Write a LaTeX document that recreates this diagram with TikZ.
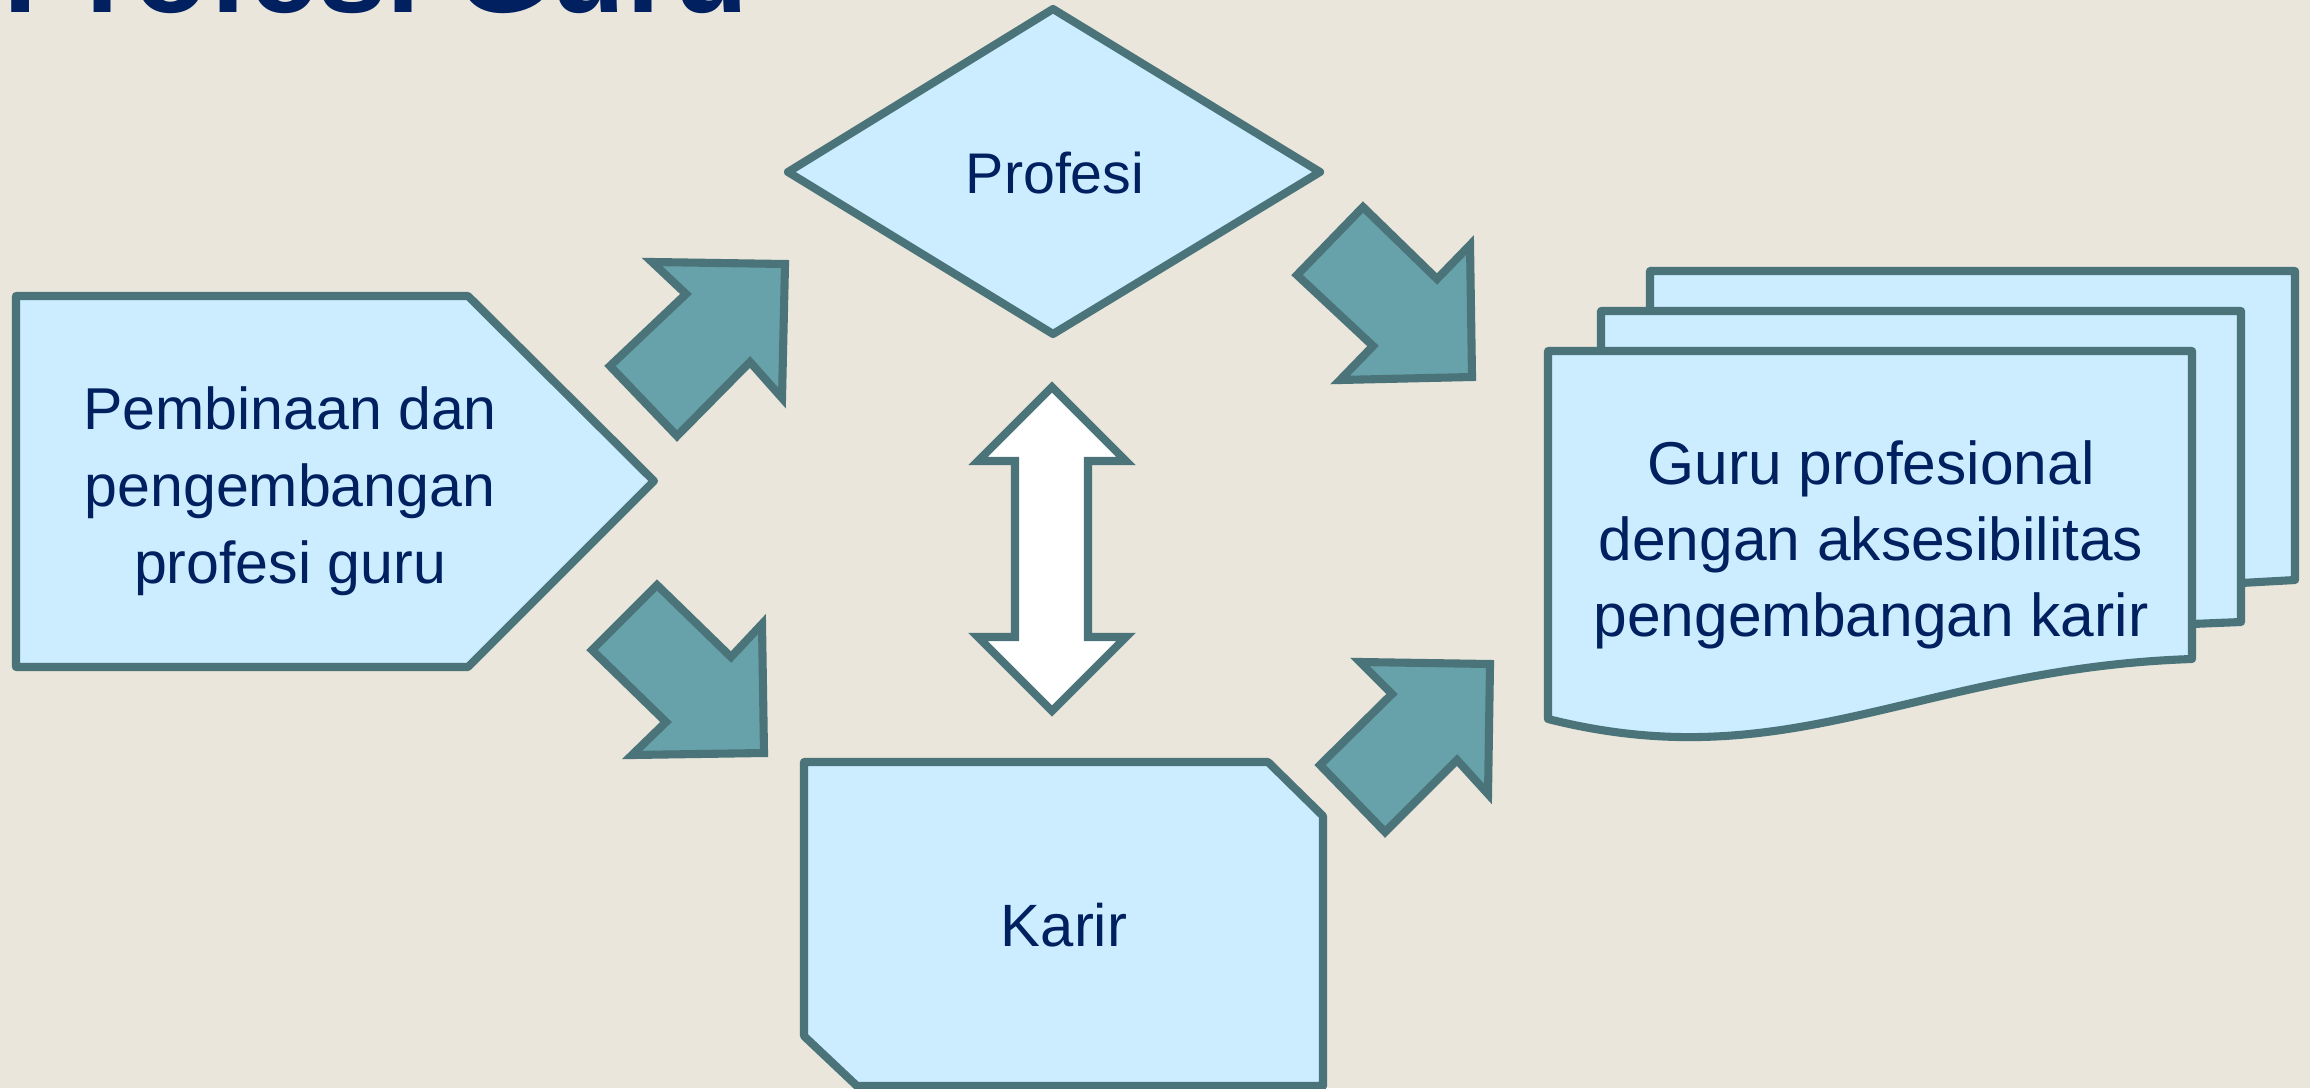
\documentclass[tikz,border=0pt]{standalone}
\usepackage{fontspec}
\setmainfont{Liberation Sans}
\definecolor{bg}{RGB}{234,230,220}
\definecolor{edge}{RGB}{74,116,121}
\definecolor{lightfill}{RGB}{204,236,255}
\definecolor{arrowfill}{RGB}{103,161,170}
\definecolor{navy}{RGB}{0,32,96}
\tikzset{
  shapebox/.style={draw=edge, fill=lightfill, line width=2.3pt, line join=round},
  blockarrow/.style={draw=edge, fill=arrowfill, line width=2.3pt, line join=miter},
  dblarrow/.style={draw=edge, fill=white, line width=2.3pt, line join=miter},
  edgeline/.style={draw=edge, line width=2.3pt, line join=round},
  lbl/.style={text=navy, inner sep=0pt, align=center},
}
\begin{document}
\begin{tikzpicture}[x=0.01cm, y=-0.01cm]
\useasboundingbox (0,0) rectangle (2310,1088);
\clip (0,0) rectangle (2310,1088);
\fill[bg] (0,0) rectangle (2310,1088);

% title (cut off at the top, as in the reference)
\node[lbl, anchor=base west, font=\fontsize{35}{40}\selectfont\bfseries] (title) at (3,13) {Profesi Guru};

% left pentagon
\draw[shapebox] (16,296) -- (468,296) -- (654,481) -- (468,667) -- (16,667) -- cycle;
\node[lbl, font=\fontsize{16.8}{21.9}\selectfont] (pembinaan) at (290,491) {Pembinaan dan\\pengembangan\\profesi guru};

% diamond
\draw[shapebox] (1053,9) -- (1320,172) -- (1053,334) -- (788,172) -- cycle;
\node[lbl, anchor=base, font=\fontsize{16.3}{20}\selectfont] (profesi) at (1055,193) {Profesi};

% Karir box
\draw[shapebox] (804,762) -- (1268,762) -- (1323,816) -- (1323,1086) -- (857,1086) -- (804,1036) -- cycle;
\node[lbl, anchor=base, font=\fontsize{17}{20}\selectfont] (karir) at (1064,946) {Karir};

% multi-document
\fill[lightfill] (1650,311) -- (1650,271) -- (2295,271) -- (2295,580) -- (2241,583) -- (2241,311) -- cycle;
\draw[edgeline] (1650,311) -- (1650,271) -- (2295,271) -- (2295,580) -- (2241,583);
\fill[lightfill] (1601,351) -- (1601,311) -- (2241,311) -- (2241,622) -- (2192,624) -- (2192,351) -- cycle;
\draw[edgeline] (1601,351) -- (1601,311) -- (2241,311) -- (2241,622) -- (2192,624);
\draw[shapebox] (1548,351) -- (2192,351) -- (2192,659) .. controls (1920,668) and (1790,780) .. (1548,719) -- cycle;
\node[lbl, font=\fontsize{17.2}{21.6}\selectfont] (guru) at (1871,545) {Guru profesional\\dengan aksesibilitas\\pengembangan karir};

% block arrows
\draw[blockarrow] (610,366) -- (686,294) -- (652,262) -- (785,264) -- (782,398) -- (750,362) -- (677,436) -- cycle;
\draw[blockarrow] (1363,207) -- (1437,279) -- (1470,245) -- (1472,377) -- (1340,380) -- (1373,346) -- (1297,275) -- cycle;
\draw[blockarrow] (657,585) -- (731,657) -- (762,624) -- (764,753) -- (632,755) -- (666,722) -- (592,650) -- cycle;
\draw[blockarrow] (1320,765) -- (1392,694) -- (1360,662) -- (1490,664) -- (1488,794) -- (1457,760) -- (1385,832) -- cycle;

% double arrow
\draw[dblarrow] (1052,387) -- (1126,461) -- (1088,461) -- (1088,637) -- (1126,637) -- (1052,711) -- (978,637) -- (1015,637) -- (1015,461) -- (978,461) -- cycle;
\end{tikzpicture}
\end{document}
